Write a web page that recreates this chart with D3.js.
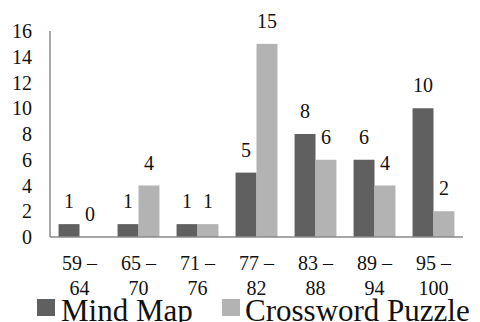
<!DOCTYPE html>
<html><head><meta charset="utf-8">
<script src="https://cdn.jsdelivr.net/npm/d3@7"></script>
<style>html,body{margin:0;padding:0;background:#fff;}svg{display:block;}svg text{font-family:'Liberation Serif','Times New Roman',Times,serif;}</style>
</head><body>
<svg id="c" width="480" height="322"></svg>
<script>
const categories = [["59 –","64"],["65 –","70"],["71 –","76"],["77 –","82"],["83 –","88"],["89 –","94"],["95 –","100"]];
const seriesNames = ["Mind Map","Crossword Puzzle"];
const mindMap = [1,1,1,5,8,6,10];
const crossword = [0,4,1,15,6,4,2];
const yTicks = [0,2,4,6,8,10,12,14,16];
const colors = ["#606060","#b3b3b3"];

(function(){
const svg = d3.select("#c");
const mL = 50, mR = 463, mT = 31, mB = 237;
const x = d3.scaleBand().domain(d3.range(categories.length)).range([mL,mR]).paddingInner(0.29).paddingOuter(0.145);
const xs = d3.scaleBand().domain([0,1]).range([0,x.bandwidth()]);
const y = d3.scaleLinear().domain([0,16]).range([mB,mT]);

svg.append("g").selectAll("text").data(yTicks).join("text")
  .attr("x",32).attr("y",d=>y(d)).attr("dy","0.35em").attr("text-anchor","end")
  .attr("font-size",20).attr("fill","#111").text(d=>d);

const series = [mindMap, crossword];
series.forEach((vals,si)=>{
  const g = svg.append("g");
  g.selectAll("rect").data(vals).join("rect")
    .attr("x",(d,i)=>x(i)+xs(si)).attr("width",xs.bandwidth())
    .attr("y",d=>y(d)).attr("height",d=>mB-y(d)).attr("fill",colors[si]);
  g.selectAll("text").data(vals).join("text")
    .attr("x",(d,i)=>x(i)+xs(si)+xs.bandwidth()/2).attr("y",d=>y(d)-16)
    .attr("text-anchor","middle").attr("font-size",20).attr("fill","#111").text(d=>d);
});

svg.append("line").attr("x1",mL).attr("x2",mL).attr("y1",mT).attr("y2",mB).attr("stroke","#8a8a8a").attr("stroke-width",1.5);
svg.append("line").attr("x1",mL).attr("x2",mR).attr("y1",mB).attr("y2",mB).attr("stroke","#8a8a8a").attr("stroke-width",1.5);

const cl = svg.append("g").selectAll("text").data(categories).join("text")
  .attr("text-anchor","middle").attr("font-size",20).attr("fill","#111");
cl.each(function(d,i){
  const t = d3.select(this);
  const cx = x(i)+x.bandwidth()/2;
  t.append("tspan").attr("x",cx).attr("y",270).text(d[0]);
  t.append("tspan").attr("x",cx).attr("y",295).text(d[1]);
});

const lg = [{x:37,tx:61},{x:222,tx:245}];
seriesNames.forEach((n,i)=>{
  svg.append("rect").attr("x",lg[i].x).attr("y",299).attr("width",18).attr("height",17).attr("fill",colors[i]);
  svg.append("text").attr("x",lg[i].tx).attr("y",321).attr("font-size",31).attr("fill","#111").text(n);
});
})();
</script>
</body></html>
